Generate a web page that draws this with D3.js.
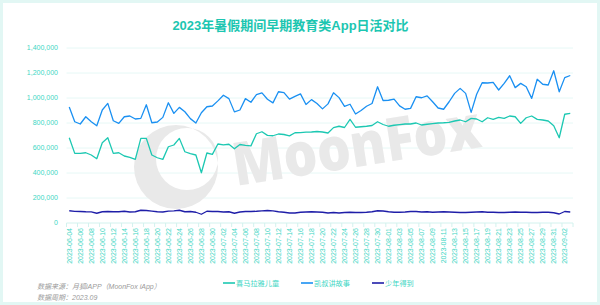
<!DOCTYPE html>
<html>
<head>
<meta charset="utf-8">
<script src="https://cdn.jsdelivr.net/npm/d3@7"></script>
<style>
  body { margin: 0; background: #fff; }
  svg { display: block; font-family: "Liberation Sans", "Noto Sans CJK SC", sans-serif; }
</style>
</head>
<body>
<div class="chart"></div>
<script>
const dates = [
  '2023-06-04','2023-06-05','2023-06-06','2023-06-07','2023-06-08','2023-06-09','2023-06-10','2023-06-11','2023-06-12','2023-06-13',
  '2023-06-14','2023-06-15','2023-06-16','2023-06-17','2023-06-18','2023-06-19','2023-06-20','2023-06-21','2023-06-22','2023-06-23',
  '2023-06-24','2023-06-25','2023-06-26','2023-06-27','2023-06-28','2023-06-29','2023-06-30','2023-07-01','2023-07-02','2023-07-03',
  '2023-07-04','2023-07-05','2023-07-06','2023-07-07','2023-07-08','2023-07-09','2023-07-10','2023-07-11','2023-07-12','2023-07-13',
  '2023-07-14','2023-07-15','2023-07-16','2023-07-17','2023-07-18','2023-07-19','2023-07-20','2023-07-21','2023-07-22','2023-07-23',
  '2023-07-24','2023-07-25','2023-07-26','2023-07-27','2023-07-28','2023-07-29','2023-07-30','2023-07-31','2023-08-01','2023-08-02',
  '2023-08-03','2023-08-04','2023-08-05','2023-08-06','2023-08-07','2023-08-08','2023-08-09','2023-08-10','2023-08-11','2023-08-12',
  '2023-08-13','2023-08-14','2023-08-15','2023-08-16','2023-08-17','2023-08-18','2023-08-19','2023-08-20','2023-08-21','2023-08-22',
  '2023-08-23','2023-08-24','2023-08-25','2023-08-26','2023-08-27','2023-08-28','2023-08-29','2023-08-30','2023-08-31','2023-09-01',
  '2023-09-02','2023-09-03'
];

// 喜马拉雅儿童
const ximalaya = [
  682000,557000,557000,562000,544000,514000,642000,682000,557000,562000,
  536000,525000,509000,677000,677000,544000,522000,509000,610000,624000,
  677000,570000,555000,544000,402000,560000,549000,632000,625000,630000,
  594000,628000,621000,617000,714000,730000,701000,698000,712000,708000,
  697000,722000,723000,727000,728000,732000,728000,720000,763000,774000,
  764000,829000,766000,770000,774000,780000,810000,788000,774000,782000,
  787000,792000,792000,800000,784000,790000,795000,800000,802000,805000,
  816000,824000,810000,837000,832000,810000,842000,829000,845000,837000,
  856000,850000,797000,842000,856000,829000,824000,816000,778000,682000,
  870000,877000
];

// 凯叔讲故事
const kaishu = [
  928000,810000,792000,850000,810000,778000,904000,957000,818000,797000,
  850000,856000,832000,837000,946000,802000,808000,845000,962000,877000,
  925000,890000,835000,800000,882000,930000,936000,977000,1022000,995000,
  889000,904000,995000,966000,1027000,1041000,990000,961000,1050000,1043000,
  991000,1013000,1033000,948000,987000,956000,913000,953000,1042000,1003000,
  933000,950000,872000,900000,934000,956000,1090000,980000,982000,991000,
  937000,910000,917000,1010000,1002000,1017000,970000,920000,910000,970000,
  1037000,1077000,1037000,885000,1030000,1122000,1120000,1125000,1064000,1117000,
  1178000,1083000,1117000,1090000,997000,1150000,1110000,1104000,1218000,1050000,
  1163000,1180000
];

// 少年得到
const shaonian = [
  98000,93000,92000,90000,89000,78000,90000,92000,90000,90000,
  94000,88000,90000,102000,100000,95000,90000,88000,95000,97000,
  102000,90000,92000,86000,70000,94000,92000,92000,88000,90000,
  78000,88000,92000,92000,94000,97000,100000,97000,90000,86000,
  80000,80000,86000,88000,90000,88000,86000,80000,84000,80000,
  84000,86000,84000,84000,86000,90000,98000,96000,90000,86000,
  86000,88000,92000,92000,88000,90000,86000,88000,90000,88000,
  86000,84000,84000,86000,88000,90000,86000,86000,84000,84000,
  86000,88000,86000,86000,84000,84000,86000,86000,82000,72000,
  92000,88000
];

const seriesNames = ['喜马拉雅儿童', '凯叔讲故事', '少年得到'];
const yTicks = [0, 200000, 400000, 600000, 800000, 1000000, 1200000, 1400000];
const title = '2023年暑假期间早期教育类App日活对比';
const sourceLines = ['数据来源：月狐iAPP（MoonFox iApp）', '数据周期：2023.09'];

const width = 600, height = 305;
const plot = { left: 66.5, right: 573, top: 48, bottom: 223 };
const colors = ['#1cc8b2', '#1a90f2', '#1f1ea8'];
const labelColor = '#3ed6c4';

const svg = d3.select('.chart')
  .append('svg')
  .attr('width', width)
  .attr('height', height);

// frame
svg.append('rect')
  .attr('x', 1.5).attr('y', 1.5)
  .attr('width', width - 3).attr('height', height - 3)
  .attr('fill', '#fff')
  .attr('stroke', '#e2f7f4')
  .attr('stroke-width', 3);

// title
svg.append('text')
  .attr('x', 290.5).attr('y', 30)
  .attr('text-anchor', 'middle')
  .attr('font-size', 13)
  .attr('font-weight', 'bold')
  .attr('fill', '#1cc6b1')
  .text(title);

// scales
const x = d3.scaleBand()
  .domain(dates)
  .range([plot.left, plot.right]);
const y = d3.scaleLinear()
  .domain([0, 1400000])
  .range([plot.bottom, plot.top]);

// gridlines + y labels
svg.append('g')
  .selectAll('line')
  .data(yTicks.filter(d => d > 0))
  .join('line')
  .attr('x1', plot.left).attr('x2', plot.right)
  .attr('y1', d => y(d)).attr('y2', d => y(d))
  .attr('stroke', '#e6f8f6')
  .attr('stroke-width', 1);

svg.append('g')
  .selectAll('text')
  .data(yTicks)
  .join('text')
  .attr('x', 58)
  .attr('y', d => y(d))
  .attr('dy', '0.35em')
  .attr('text-anchor', 'end')
  .attr('font-size', 7)
  .attr('fill', labelColor)
  .text(d => d3.format(',')(d));

// watermark (logo crescent + word mark)
const wm = svg.append('g').attr('fill', '#e9e9e9');
const moon = d3.path();
moon.moveTo(176 + 42, 167);
moon.arc(176, 167, 42, 0, 2 * Math.PI);
moon.moveTo(187 + 31, 159);
moon.arc(187, 159, 31, 0, 2 * Math.PI);
wm.append('path')
  .attr('fill-rule', 'evenodd')
  .attr('d', moon.toString());
wm.append('text')
  .attr('transform', 'translate(236,186) rotate(-9)')
  .attr('font-family', '"Open Sans", sans-serif')
  .attr('font-weight', 800)
  .attr('font-size', 60)
  .attr('textLength', 250)
  .attr('lengthAdjust', 'spacingAndGlyphs')
  .text('MoonFox');

// x axis
const xAxis = svg.append('g');
xAxis.append('line')
  .attr('x1', plot.left).attr('x2', plot.right)
  .attr('y1', plot.bottom).attr('y2', plot.bottom)
  .attr('stroke', '#d3f2ee');
const labelled = dates.filter((d, i) => i % 2 === 0);
xAxis.selectAll('line.tick')
  .data(labelled.concat([null]))
  .join('line')
  .attr('class', 'tick')
  .attr('x1', d => d ? x(d) : plot.right)
  .attr('x2', d => d ? x(d) : plot.right)
  .attr('y1', plot.bottom).attr('y2', plot.bottom + 4)
  .attr('stroke', '#d3f2ee');
xAxis.selectAll('text')
  .data(labelled)
  .join('text')
  .attr('transform', d => `translate(${x(d) + x.bandwidth() / 2},228) rotate(-90)`)
  .attr('text-anchor', 'end')
  .attr('dy', '0.35em')
  .attr('font-size', 7)
  .attr('fill', labelColor)
  .text(d => d);

// lines
const line = d3.line()
  .x((d, i) => x(dates[i]) + x.bandwidth() / 2)
  .y(d => y(d));

svg.append('g')
  .selectAll('path')
  .data([ximalaya, kaishu, shaonian])
  .join('path')
  .attr('fill', 'none')
  .attr('stroke', (d, i) => colors[i])
  .attr('stroke-width', 1.3)
  .attr('stroke-linejoin', 'round')
  .attr('d', line);

// legend
const legendX = [223, 301, 372];
const legend = svg.append('g')
  .selectAll('g')
  .data(seriesNames)
  .join('g')
  .attr('transform', (d, i) => `translate(${legendX[i]},283)`);
legend.append('line')
  .attr('x1', 0).attr('x2', 12)
  .attr('stroke', (d, i) => colors[i])
  .attr('stroke-width', 1.6);
legend.append('text')
  .attr('x', 13)
  .attr('dy', '0.35em')
  .attr('font-size', 7.2)
  .attr('fill', labelColor)
  .text(d => d);

// source
svg.append('g')
  .selectAll('text')
  .data(sourceLines)
  .join('text')
  .attr('x', 37)
  .attr('y', (d, i) => 288.5 + i * 11.5)
  .attr('font-size', 7)
  .attr('font-style', 'italic')
  .attr('fill', '#9a9a9a')
  .text(d => d);
</script>
</body>
</html>
